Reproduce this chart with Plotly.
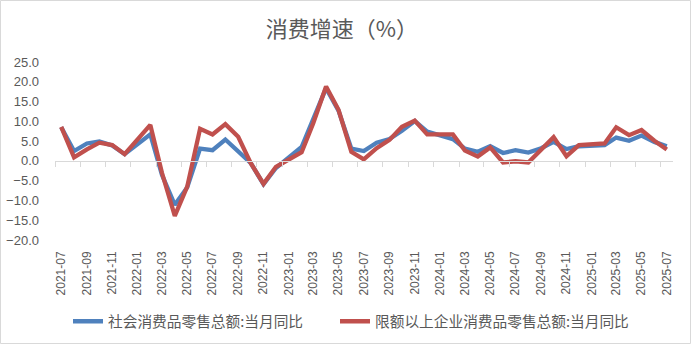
import plotly.graph_objects as go
import pandas as pd

months = ["2021-07","2021-08","2021-09","2021-10","2021-11","2021-12",
          "2022-02","2022-03","2022-04","2022-05","2022-06","2022-07","2022-08","2022-09","2022-10","2022-11","2022-12",
          "2023-02","2023-03","2023-04","2023-05","2023-06","2023-07","2023-08","2023-09","2023-10","2023-11","2023-12",
          "2024-02","2024-03","2024-04","2024-05","2024-06","2024-07","2024-08","2024-09","2024-10","2024-11","2024-12",
          "2025-02","2025-03","2025-04","2025-05","2025-06","2025-07"]

retail_total = [8.5, 2.5, 4.4, 4.9, 3.9, 1.7,
                6.7, -3.5, -11.1, -6.7, 3.1, 2.7, 5.4, 2.5, -0.5, -5.9, -1.8,
                3.5, 10.6, 18.4, 12.7, 3.1, 2.5, 4.6, 5.5, 7.6, 10.1, 7.4,
                5.5, 3.1, 2.3, 3.7, 2.0, 2.7, 2.1, 3.2, 4.8, 3.0, 3.7,
                4.0, 5.9, 5.1, 6.4, 4.8, 3.7]

retail_above = [8.6, 0.9, 2.9, 4.6, 4.0, 1.7,
                9.1, -3.0, -13.9, -6.5, 8.1, 6.7, 9.3, 6.1, -0.5, -5.8, -1.5,
                2.2, 9.5, 18.8, 12.9, 2.3, 0.4, 3.2, 5.3, 8.6, 10.2, 6.7,
                6.7, 2.6, 1.1, 3.4, -0.4, -0.1, -0.4, 2.8, 6.0, 1.2, 4.0,
                4.4, 8.5, 6.5, 7.8, 5.1, 2.9]

name_total = "社会消费品零售总额:当月同比"
name_above = "限额以上企业消费品零售总额:当月同比"
title_text = "消费增速（%）"

x_dates = pd.to_datetime([m + "-01" for m in months])

W, H = 693, 345
ML, MR, MT, MB = 55, 20, 62, 105
PW = W - ML - MR
PH = H - MT - MB

x_range = ["2021-06-16", "2025-07-16"]
y_min, y_max = -20, 25

grey = "#595959"
fnum = "Liberation Sans, Arial, sans-serif"
fcjk = "Noto Sans CJK SC, sans-serif"

fig = go.Figure()
fig.add_trace(go.Scatter(x=x_dates, y=retail_total, mode="lines", name=name_total,
                         line=dict(color="#4F81BD", width=4.3), hoverinfo="skip",
                         legendwidth=222))
fig.add_trace(go.Scatter(x=x_dates, y=retail_above, mode="lines", name=name_above,
                         line=dict(color="#C0504D", width=4.3), hoverinfo="skip"))
# helper trace for the zero-line axis with tick marks
fig.add_trace(go.Scatter(x=[], y=[], xaxis="x2", yaxis="y", showlegend=False, hoverinfo="skip"))

fig.update_layout(
    width=W, height=H,
    margin=dict(l=ML, r=MR, t=MT, b=MB, autoexpand=False),
    paper_bgcolor="white", plot_bgcolor="white",
    title=dict(text=title_text, x=342 / W, xref="container", xanchor="center",
               y=1 - 29 / H, yref="container", yanchor="middle",
               font=dict(family=fcjk, size=22, color=grey)),
    xaxis=dict(type="date", range=x_range, tick0="2021-07-01", dtick="M2",
               tickformat="%Y-%m", tickangle=-90, showgrid=False, showline=False,
               zeroline=False, ticks="", ticklabelstandoff=8,
               tickfont=dict(family=fnum, size=12, color=grey)),
    xaxis2=dict(type="date", range=x_range, overlaying="x", anchor="free",
                position=(0 - y_min) / (y_max - y_min), side="bottom",
                tick0="2021-06-16", dtick="M2", ticks="outside", ticklen=5,
                tickcolor="#d9d9d9", tickwidth=1, showticklabels=False,
                showgrid=False, zeroline=False, showline=True,
                linecolor="#d9d9d9", linewidth=1),
    yaxis=dict(range=[y_min, y_max], dtick=5, tickformat=".1f", showgrid=False,
               zeroline=False, showline=False, ticks="", ticklabelstandoff=15,
               tickfont=dict(family=fnum, size=13, color=grey)),
    legend=dict(orientation="h", x=(68 - ML) / PW, xanchor="left",
                yref="container", y=1 - 321.7 / H, yanchor="middle",
                font=dict(family=fcjk, size=14.7, color=grey),
                bgcolor="rgba(0,0,0,0)"),
    shapes=[dict(type="rect", xref="paper", yref="paper",
                 x0=(0.5 - ML) / PW, x1=(690.5 - ML) / PW,
                 y0=(MT + PH - 343.5) / PH, y1=(MT + PH - 0.5) / PH,
                 line=dict(color="#d9d9d9", width=1), layer="below")],
)

fig.write_html("out.html")
